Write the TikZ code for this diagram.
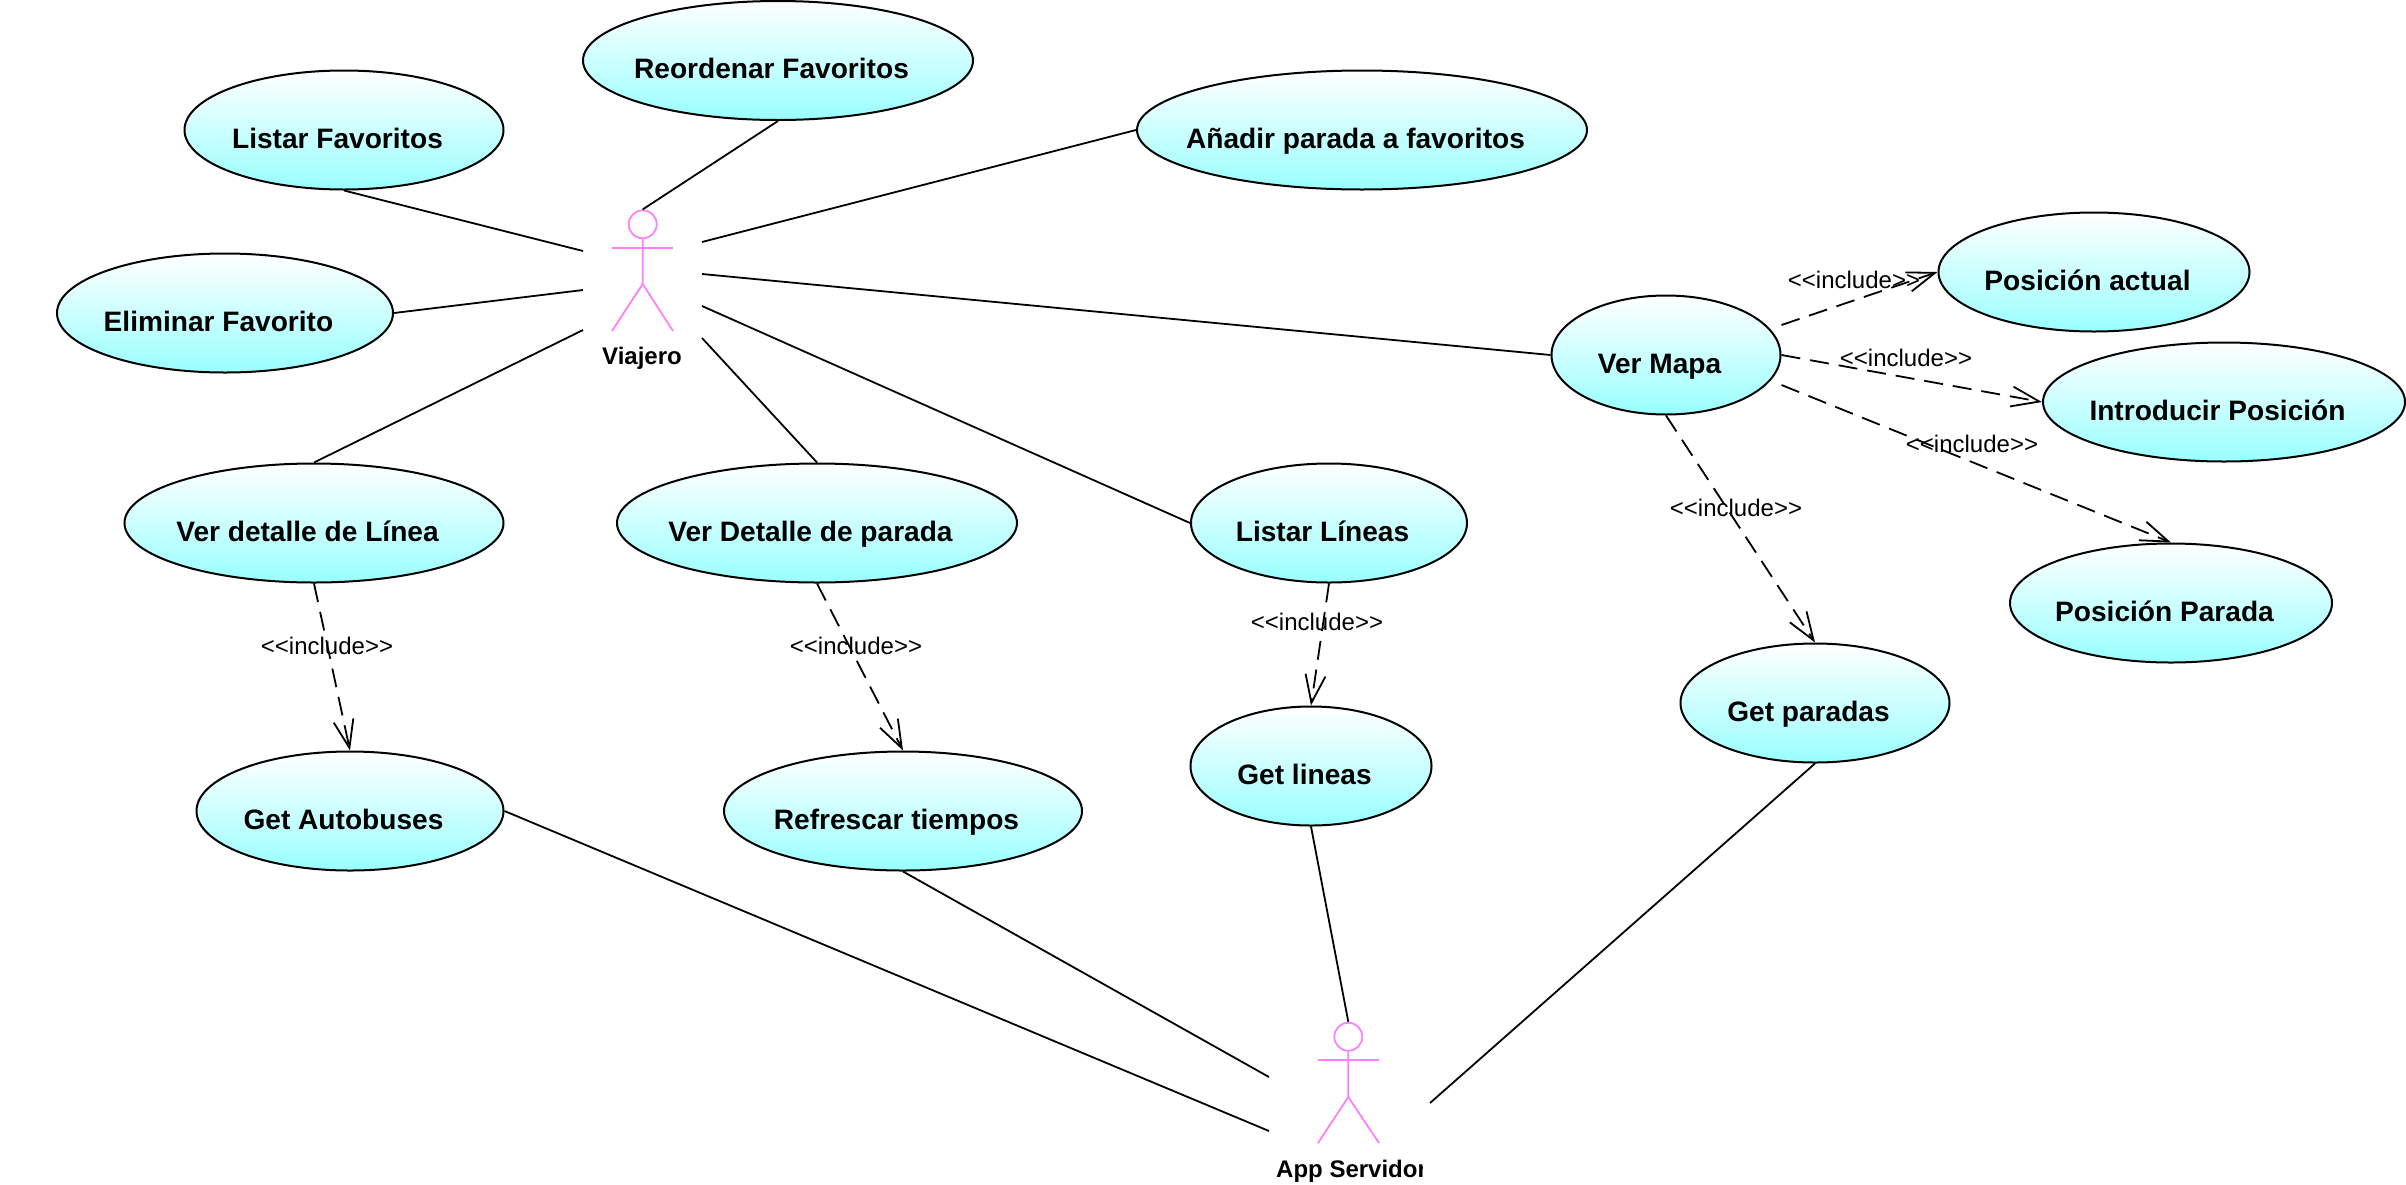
\documentclass[tikz,border=0pt]{standalone}
\usepackage{fontspec}
\setmainfont{Liberation Sans}
\usetikzlibrary{shapes.geometric,arrows.meta}
\definecolor{usecasecyan}{HTML}{99FFFF}
\definecolor{actorpink}{HTML}{FF80FF}
\newcommand{\ucname}[1]{\hspace*{-6.5pt}\raisebox{-18pt}[0pt][0pt]{\makebox[0pt]{#1}}\hspace*{6.5pt}}
\tikzset{
    usecase/.style={ellipse,draw=black,line width=2pt,top color=white,bottom color=usecasecyan,minimum height=119pt,inner sep=0pt,font=\fontsize{28.1pt}{30pt}\selectfont\bfseries},
    assoc/.style={line width=1.8pt},
    includes/.style={line width=1.8pt,dash pattern=on 19pt off 10pt,-{Straight Barb[length=28pt,width=20pt,line width=1.8pt]}},
    includelabel/.style={inner sep=0pt,font=\fontsize{24pt}{26pt}\selectfont},
    actorhead/.style={circle,draw=actorpink,line width=1.8pt,minimum size=28pt,inner sep=0pt},
    actorline/.style={draw=actorpink,line width=1.8pt},
    actorname/.style={inner sep=0pt,font=\fontsize{24pt}{26pt}\selectfont\bfseries}
}
\begin{document}
\begin{tikzpicture}[x=1pt,y=-1pt]
    \useasboundingbox (0,0) rectangle (2406,1184);

    % Use cases
    \node[usecase,minimum width=390pt] (reordenar) at (778,60.5) {\ucname{Reordenar Favoritos}};
    \node[usecase,minimum width=319pt] (listarfav) at (344,130) {\ucname{Listar Favoritos}};
    \node[usecase,minimum width=450pt] (anadir) at (1362,130) {\ucname{Añadir parada a favoritos}};
    \node[usecase,minimum width=336pt] (eliminar) at (225,313) {\ucname{Eliminar Favorito}};
    \node[usecase,minimum width=311pt] (posactual) at (2094,272) {\ucname{Posición actual}};
    \node[usecase,minimum width=229pt] (vermapa) at (1666,355) {\ucname{Ver Mapa}};
    \node[usecase,minimum width=362pt] (introducir) at (2224,402) {\ucname{Introducir Posición}};
    \node[usecase,minimum width=379pt] (verlinea) at (314,523) {\ucname{Ver detalle de Línea}};
    \node[usecase,minimum width=400pt] (verparada) at (817,523) {\ucname{Ver Detalle de parada}};
    \node[usecase,minimum width=276pt] (listarlineas) at (1329,523) {\ucname{Listar Líneas}};
    \node[usecase,minimum width=322pt] (posparada) at (2171,603) {\ucname{Posición Parada}};
    \node[usecase,minimum width=269pt] (getparadas) at (1815,703) {\ucname{Get paradas}};
    \node[usecase,minimum width=241pt] (getlineas) at (1311,766) {\ucname{Get lineas}};
    \node[usecase,minimum width=307pt] (getautobuses) at (350,811) {\ucname{Get Autobuses}};
    \node[usecase,minimum width=358pt] (refrescar) at (903,811) {\ucname{Refrescar tiempos}};

    % Viajero
    \node[actorhead] (viajerohead) at (642.7,224.3) {};
    \draw[actorline] (viajerohead.south) -- (642.7,284) -- (612,331);
    \draw[actorline] (642.7,284) -- (673,331);
    \draw[actorline] (612,248) -- (673,248);
    \node[actorname,anchor=base] (viajero) at (642,364) {Viajero};
    \coordinate (viajeroA) at (583,251);
    \coordinate (viajeroB) at (583,290);
    \coordinate (viajeroC) at (583,330);
    \coordinate (viajeroD) at (702,242);
    \coordinate (viajeroE) at (702,274);
    \coordinate (viajeroF) at (702,306);
    \coordinate (viajeroG) at (702,338);

    % App Servidor
    \node[actorhead] (servidorhead) at (1348.3,1036.7) {};
    \draw[actorline] (servidorhead.south) -- (1348.3,1097) -- (1318,1143);
    \draw[actorline] (1348.3,1097) -- (1379,1143);
    \draw[actorline] (1318,1060) -- (1379,1060);
    \begin{scope}
        \clip (1200,1150) rectangle (1422,1184);
        \node[actorname,anchor=base west] (servidor) at (1276,1177) {App Servidor};
    \end{scope}
    \coordinate (servidorA) at (1269,1077);
    \coordinate (servidorB) at (1269,1131);
    \coordinate (servidorC) at (1430,1103);

    % Associations
    \draw[assoc] (reordenar.south) -- (viajerohead.north);
    \draw[assoc] (listarfav.south) -- (viajeroA);
    \draw[assoc] (eliminar.east) -- (viajeroB);
    \draw[assoc] (verlinea.north) -- (viajeroC);
    \draw[assoc] (anadir.west) -- (viajeroD);
    \draw[assoc] (vermapa.west) -- (viajeroE);
    \draw[assoc] (listarlineas.west) -- (viajeroF);
    \draw[assoc] (verparada.north) -- (viajeroG);
    \draw[assoc] (getautobuses.east) -- (servidorB);
    \draw[assoc] (refrescar.south) -- (servidorA);
    \draw[assoc] (getlineas.south) -- (servidorhead.north);
    \draw[assoc] (getparadas.south) -- (servidorC);

    % Includes
    \coordinate (mapaA) at ([yshift=30pt]vermapa.east);
    \coordinate (mapaB) at ([yshift=-30pt]vermapa.east);
    \draw[includes] (verlinea.south) -- (getautobuses.north);
    \draw[includes] (verparada.south) -- (refrescar.north);
    \draw[includes] (listarlineas.south) -- (getlineas.north);
    \draw[includes] (vermapa.south) -- (getparadas.north);
    \draw[includes] (mapaA) -- (posactual.west);
    \draw[includes] (vermapa.east) -- (introducir.west);
    \draw[includes] (mapaB) -- (posparada.north);

    % Include labels
    \node[includelabel] (incA) at (327,646) {<{}<include>{}>};
    \node[includelabel] (incB) at (856,646) {<{}<include>{}>};
    \node[includelabel] (incC) at (1317,622) {<{}<include>{}>};
    \node[includelabel] (incD) at (1736,508) {<{}<include>{}>};
    \node[includelabel] (incE) at (1854,280) {<{}<include>{}>};
    \node[includelabel] (incF) at (1906,358) {<{}<include>{}>};
    \node[includelabel] (incG) at (1972,444) {<{}<include>{}>};
\end{tikzpicture}
\end{document}
